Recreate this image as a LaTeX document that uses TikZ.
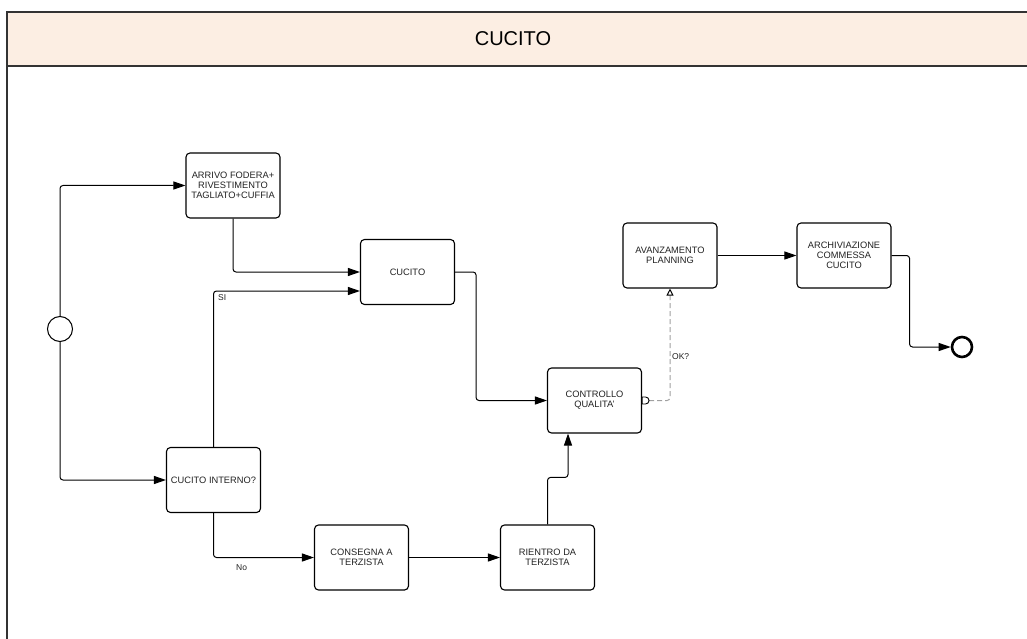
\documentclass[tikz,border=0pt]{standalone}
\usepackage{fontspec}
\setmainfont{Liberation Sans}
\usetikzlibrary{arrows.meta,calc}

\definecolor{bandfill}{HTML}{FCEEE3}
\definecolor{framegray}{HTML}{333333}
\definecolor{dashgray}{HTML}{A0A0A0}
\definecolor{textgray}{HTML}{222222}

\tikzset{
  task/.style={draw=black, line width=1.1pt, rounded corners=4pt, fill=white,
    minimum width=94pt, minimum height=65pt, inner sep=1pt, align=center,
    text=textgray, font=\fontsize{9.3}{10}\selectfont},
  flow/.style={draw=black, line width=1pt, rounded corners=3pt,
    -{Triangle[length=12pt,width=8pt]}},
  cond/.style={draw=dashgray, line width=1pt, dash pattern=on 5pt off 3pt,
    rounded corners=3pt, -{Triangle[open,length=7pt,width=7pt,black,line width=1pt]}},
  lbl/.style={font=\fontsize{8.5}{9}\selectfont, inner sep=0pt, anchor=west, text=textgray},
  startev/.style={circle, draw=black, line width=1pt, minimum size=25pt, inner sep=0pt, fill=white},
  endev/.style={circle, draw=black, line width=2.6pt, minimum size=20pt, inner sep=0pt, fill=white},
}

\begin{document}
\begin{tikzpicture}[x=1pt,y=-1pt]
  \useasboundingbox (0,0) rectangle (1027,639);
  \clip (0,0) rectangle (1027,639);

  % pool frame and title band
  \fill[white] (0,0) rectangle (1027,639);
  \draw[framegray, line width=1.4pt, fill=white] (7,12) rectangle (1040,660);
  \draw[framegray, line width=1.4pt, fill=bandfill] (7,12) rectangle (1040,66);
  \node[font=\fontsize{20}{23}\selectfont] (title) at (513,39) {CUCITO};

  % events
  \node[startev] (start) at (60,329) {};
  \node[endev] (end) at (962,347) {};

  % tasks
  \node[task] (arrivo) at (233,185.5) {ARRIVO FODERA+\\RIVESTIMENTO\\TAGLIATO+CUFFIA};
  \node[task] (cucito) at (407.5,272) {CUCITO};
  \node[task] (interno) at (213.5,480) {CUCITO INTERNO?};
  \node[task] (consegna) at (361.5,557.5) {CONSEGNA A\\TERZISTA};
  \node[task] (rientro) at (547.5,557.5) {RIENTRO DA\\TERZISTA};
  \node[task] (ctrl) at (594.5,400.5) {CONTROLLO\\QUALITA'};
  \node[task] (avanz) at (670,255.5) {AVANZAMENTO\\PLANNING};
  \node[task] (archiv) at (844,255.5) {ARCHIVIAZIONE\\COMMESSA\\CUCITO};

  % sequence flows
  \draw[flow] (start.north) |- (arrivo.west);
  \draw[flow] (start.south) |- (interno.west);
  \draw[flow] (arrivo.south) |- (cucito.west);
  \draw[flow] (interno.north) |- ($(cucito.west)+(0,19)$);
  \draw[flow] (interno.south) |- (consegna.west);
  \draw[flow] (consegna.east) -- (rientro.west);
  \draw[flow] (rientro.north) -- ($(rientro.north)+(0,-47)$) -| ($(ctrl.south)+(-26.5,0)$);
  \draw[flow] (cucito.east) -- ($(cucito.east)+(21,0)$) |- (ctrl.west);
  \draw[flow] (avanz.east) -- (archiv.west);
  \draw[flow] (archiv.east) -- ($(archiv.east)+(18,0)$) |- (end.west);

  % conditional flow with its marker
  \draw[cond] ($(ctrl.east)+(7,0)$) -| (avanz.south);
  \draw[black, line width=0.9pt, fill=white]
    ($(ctrl.east)+(0,-3.5)$) -- ++(3.5,0) arc[start angle=90, end angle=-90, radius=3.5pt] -- ++(-3.5,0) -- cycle;

  % flow labels
  \node[lbl] (si) at (218,298) {SI};
  \node[lbl] (no) at (236,568) {No};
  \node[lbl] (ok) at (672,357) {OK?};
\end{tikzpicture}
\end{document}
